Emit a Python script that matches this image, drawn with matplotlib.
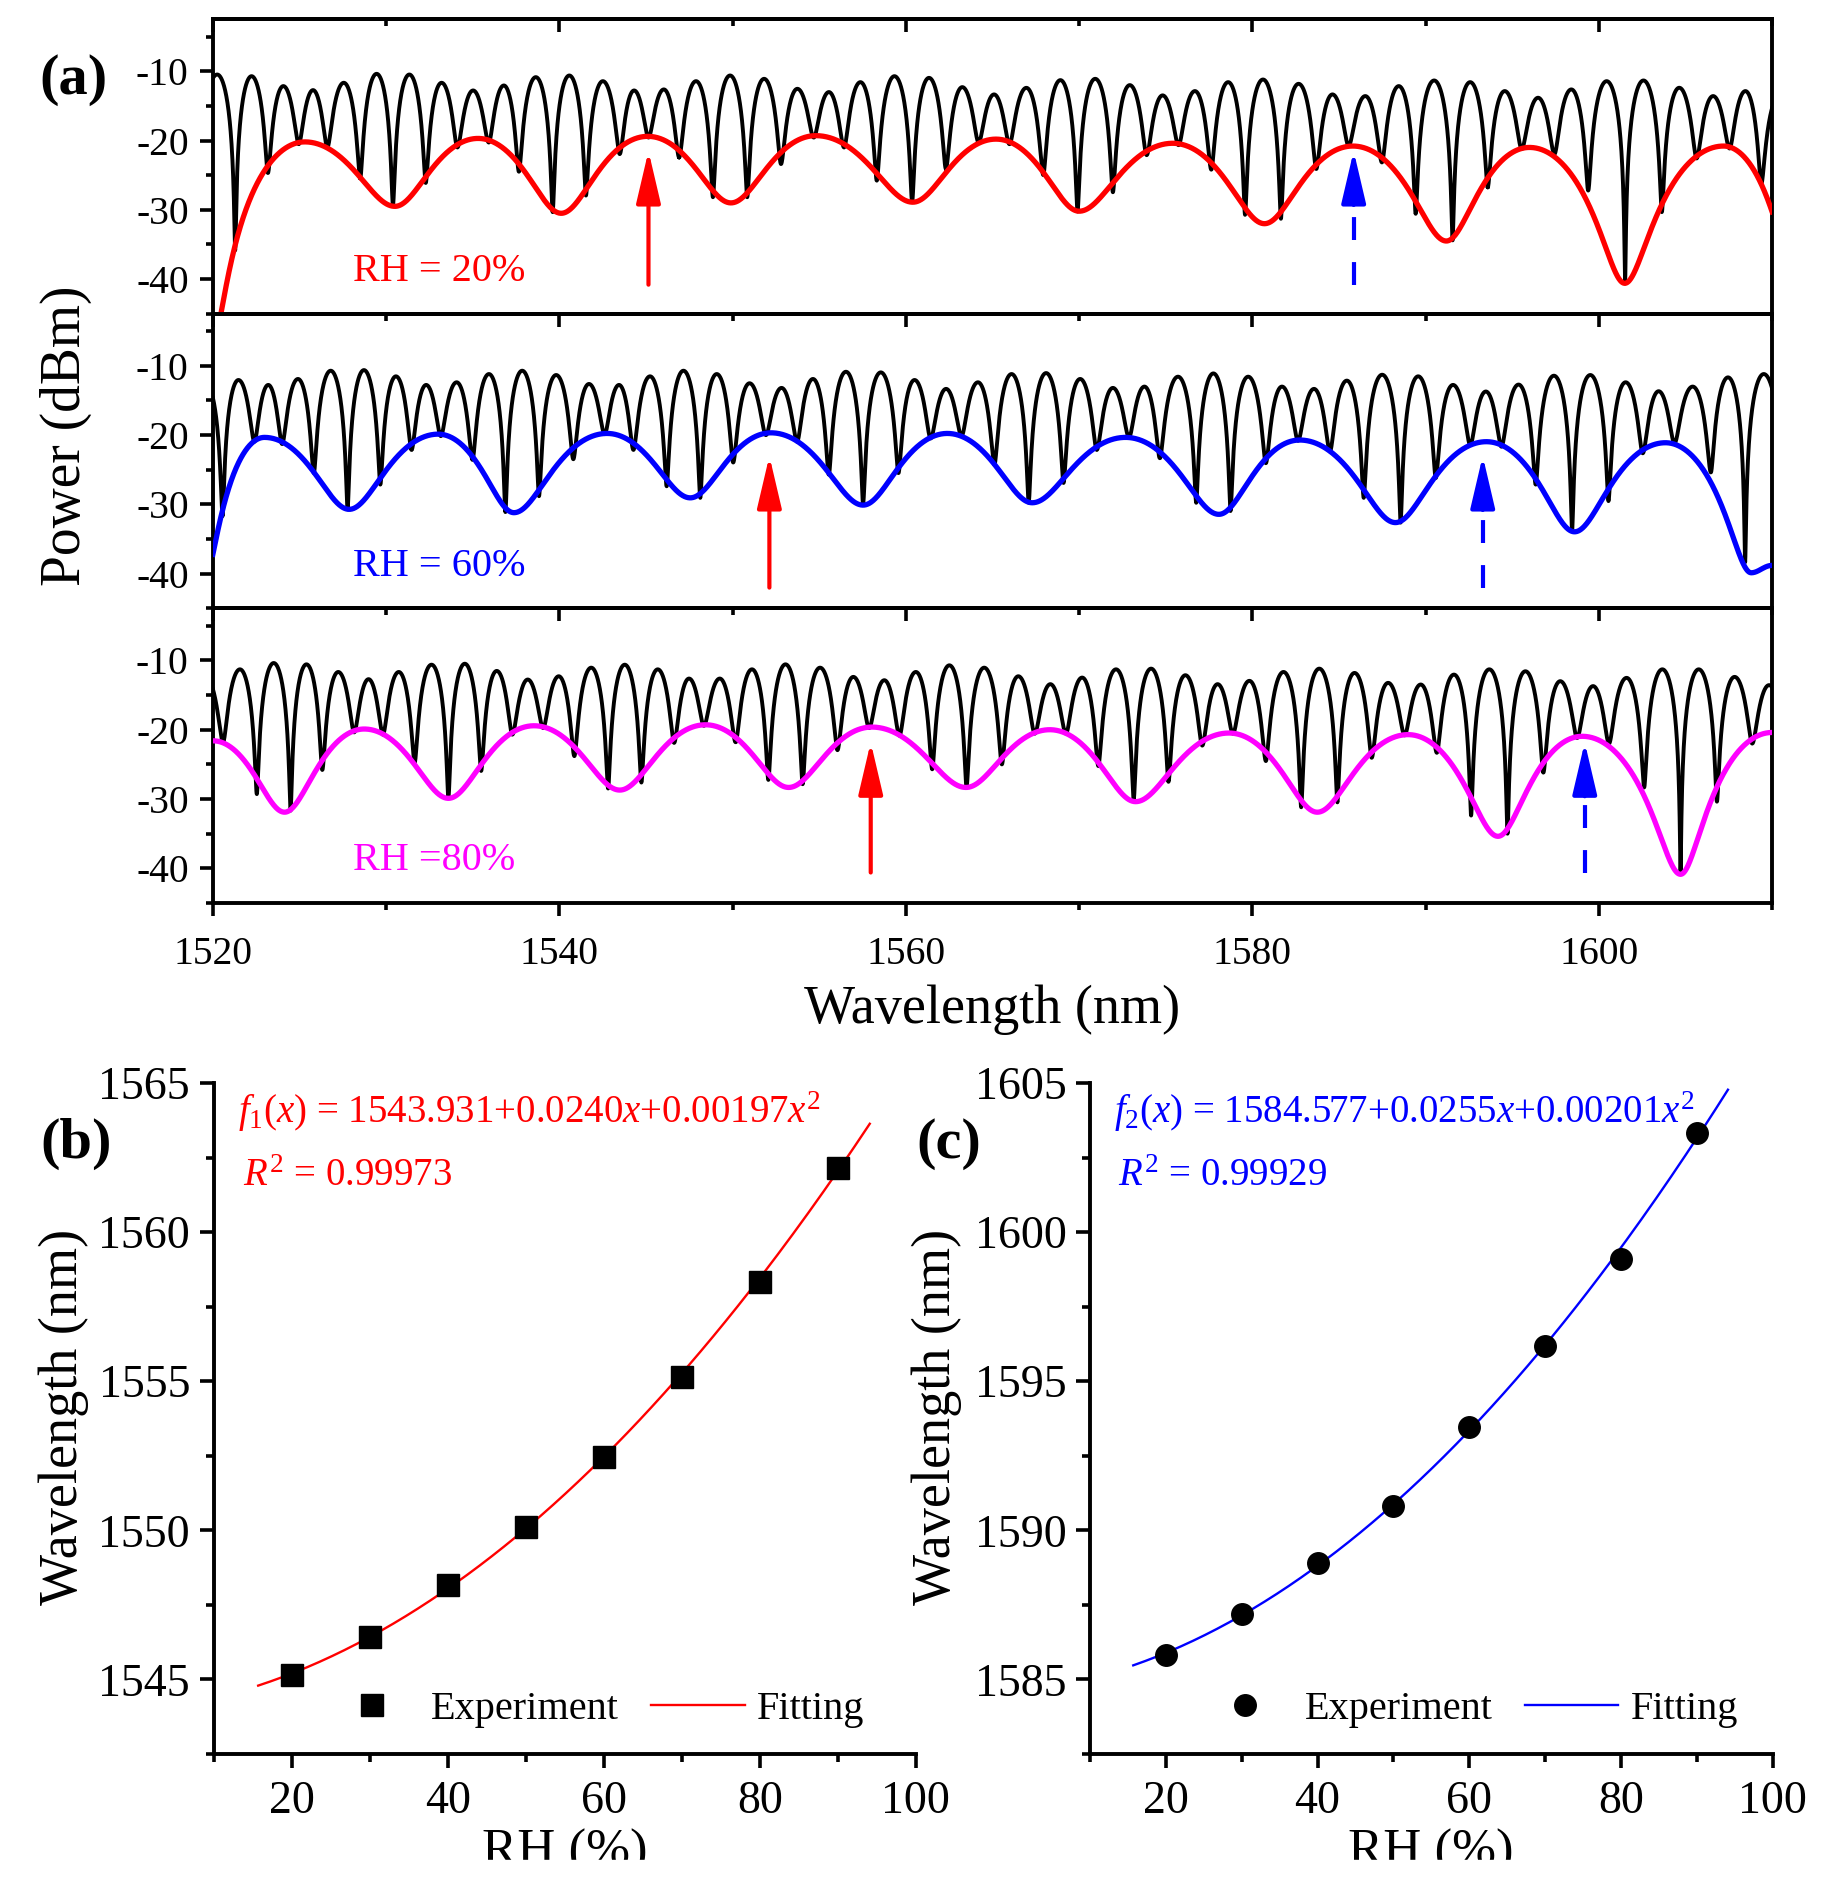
import numpy as np
import matplotlib
matplotlib.use('Agg')
import matplotlib.pyplot as plt
from matplotlib.ticker import MultipleLocator
from matplotlib.patches import Rectangle

plt.rcParams['font.family'] = ['Liberation Serif', 'DejaVu Serif']
plt.rcParams['mathtext.fontset'] = 'custom'
plt.rcParams['mathtext.rm'] = 'Liberation Serif'
plt.rcParams['mathtext.it'] = 'Liberation Serif:italic'
plt.rcParams['axes.unicode_minus'] = False

# ---------------- (a) spectra, values ----------------
# fringe dips (nm) and their depth (dBm); first and last dip lie just outside the window
dip_x_20 = [1519.2, 1521.28, 1523.17, 1524.95, 1526.60, 1528.50, 1530.39, 1532.28, 1534.11, 1535.92,
            1537.66, 1539.61, 1541.53, 1543.48, 1545.14, 1546.91, 1548.86, 1550.84, 1552.79, 1554.68,
            1556.43, 1558.32, 1560.36, 1562.31, 1564.20, 1565.98, 1567.93, 1569.91, 1571.95, 1573.90,
            1575.74, 1577.63, 1579.58, 1581.65, 1583.69, 1585.56, 1587.48, 1589.43, 1591.56, 1593.59,
            1595.55, 1597.44, 1599.39, 1601.52, 1603.64, 1605.65, 1607.55, 1609.38, 1611.5]
dip_db_20 = [-20, -35.84, -24.69, -20.53, -21.0, -25.45, -29.38, -26.12, -21.0, -20.29,
             -24.50, -30.33, -27.94, -21.96, -19.57, -22.44, -28.18, -28.18, -23.40, -19.57,
             -21.0, -25.79, -28.90, -24.11, -20.29, -20.53, -24.98, -30.24, -27.46, -22.11,
             -20.67, -24.21, -30.72, -31.29, -24.11, -20.77, -23.16, -30.57, -34.4, -26.75,
             -21.24, -21.96, -27.22, -40.62, -30.33, -22.58, -21.15, -26.27, -22]
peak_db_20 = [-10.48, -10.72, -12.15, -12.73, -11.67, -10.38, -10.48, -11.67, -12.78, -12.06,
              -10.86, -10.62, -11.44, -12.78, -12.63, -11.44, -10.62, -11.10, -12.54, -13.01,
              -11.58, -10.72, -10.96, -12.30, -13.35, -12.4, -11.29, -11.10, -12.01, -13.49,
              -12.87, -11.58, -11.2, -11.82, -13.35, -13.59, -12.15, -11.34, -11.58, -12.87,
              -13.83, -12.63, -11.44, -11.34, -12.39, -13.59, -12.87, -13.5]
env_x_20 = [1519.9, 1525.3, 1530.5, 1535.3, 1540.1, 1545.1, 1549.9, 1554.8, 1560.4, 1565.2,
            1570.0, 1575.4, 1580.7, 1585.8, 1591.2, 1596.0, 1601.5, 1607.2, 1611.4]
env_db_20 = [-50.0, -20.2, -29.5, -19.7, -30.5, -19.4, -29.0, -19.3, -28.9, -19.8,
             -30.2, -20.4, -32.0, -20.8, -34.5, -21.0, -40.6, -20.8, -39.5]

dip_x_60 = [1518.6, 1520.55, 1522.39, 1523.99, 1525.82, 1527.77, 1529.66, 1531.46, 1533.15, 1534.98,
            1536.88, 1538.82, 1540.80, 1542.61, 1544.27, 1546.19, 1548.13, 1550.03, 1551.92, 1553.72,
            1555.55, 1557.53, 1559.57, 1561.43, 1563.21, 1565.11, 1567.09, 1569.10, 1571.02, 1572.88,
            1574.66, 1576.76, 1578.74, 1580.78, 1582.64, 1584.48, 1586.43, 1588.56, 1590.59, 1592.58,
            1594.38, 1596.36, 1598.46, 1600.56, 1602.54, 1604.37, 1606.47, 1608.45, 1610.6]
dip_db_60 = [-20, -31.7, -20.95, -21.29, -25.48, -30.71, -27.14, -22.14, -20.14, -23.57,
             -31.1, -28.81, -23.48, -19.86, -22.14, -27.38, -29.05, -23.95, -20.0, -20.95,
             -25.71, -30.0, -25.48, -20.48, -20.14, -24.29, -29.76, -26.9, -22.14, -20.33,
             -23.33, -29.76, -30.95, -24.05, -20.81, -22.38, -29.05, -32.62, -26.19, -21.43,
             -21.67, -27.14, -33.81, -29.52, -22.62, -21.19, -25.38, -38.33, -22]
peak_db_60 = [-12.5, -12.05, -12.76, -11.9, -10.71, -10.62, -11.52, -12.76, -12.38, -11.19,
              -10.71, -11.33, -12.62, -12.76, -11.52, -10.71, -11.19, -12.52, -13.19, -11.9,
              -10.86, -10.95, -12.05, -13.33, -12.38, -11.19, -11.05, -11.9, -13.19, -13.0,
              -11.57, -11.1, -11.57, -13.0, -13.33, -12.14, -11.29, -11.52, -12.76, -13.71,
              -12.71, -11.43, -11.33, -12.38, -13.67, -13.0, -11.67, -11.19]
env_x_60 = [1519.4, 1522.97, 1527.86, 1533.0, 1537.37, 1542.75, 1547.55, 1552.21, 1557.53, 1562.39,
            1567.29, 1572.68, 1578.07, 1582.73, 1588.26, 1593.51, 1598.6, 1603.85, 1608.80, 1610.0]
env_db_60 = [-42.0, -20.33, -30.71, -19.86, -31.19, -19.76, -29.05, -19.67, -30.1, -19.76,
             -29.76, -20.33, -31.43, -20.71, -32.62, -20.95, -33.95, -21.1, -39.86, -38.8]

dip_x_80 = [1518.6, 1520.58, 1522.53, 1524.48, 1526.31, 1528.15, 1529.81, 1531.64, 1533.59, 1535.48,
            1537.28, 1539.06, 1540.86, 1542.81, 1544.73, 1546.62, 1548.34, 1550.17, 1552.06, 1554.04,
            1556.05, 1557.88, 1559.63, 1561.52, 1563.50, 1565.54, 1567.44, 1569.24, 1571.11, 1573.15,
            1575.16, 1577.11, 1578.88, 1580.78, 1582.82, 1584.91, 1586.89, 1588.79, 1590.65, 1592.63,
            1594.73, 1596.80, 1598.75, 1600.59, 1602.62, 1604.72, 1606.82, 1608.86, 1610.8]
dip_db_80 = [-20, -21.81, -29.29, -31.67, -25.81, -20.38, -20.71, -24.76, -29.9, -25.95,
             -20.71, -19.76, -23.81, -28.48, -27.62, -21.9, -19.43, -21.81, -27.24, -27.86,
             -22.95, -19.76, -20.86, -25.71, -28.33, -25.0, -20.57, -20.57, -25.24, -30.24,
             -27.52, -22.29, -20.57, -24.52, -31.19, -30.48, -24.05, -20.81, -23.33, -32.38,
             -35.0, -26.19, -21.19, -22.0, -28.33, -40.86, -30.38, -22.0, -22]
peak_db_80 = [-12.5, -11.29, -10.38, -10.57, -11.67, -12.71, -11.67, -10.62, -10.48, -11.52,
              -12.76, -12.29, -11.05, -10.62, -11.29, -12.62, -12.62, -11.29, -10.57, -11.05,
              -12.38, -12.86, -11.67, -10.71, -11.05, -12.29, -13.43, -12.48, -11.29, -11.19,
              -12.14, -13.43, -12.95, -11.67, -11.19, -11.81, -13.24, -13.48, -12.05, -11.29,
              -11.57, -13.0, -13.71, -12.52, -11.29, -11.29, -12.38, -13.57]
env_x_80 = [1520.0, 1524.13, 1528.73, 1533.59, 1538.53, 1543.48, 1548.43, 1553.23, 1558.03, 1563.47,
            1568.31, 1573.26, 1578.65, 1583.75, 1588.99, 1594.18, 1599.04, 1604.72, 1610.0]
env_db_80 = [-21.6, -31.9, -19.9, -29.9, -19.43, -28.71, -19.29, -28.33, -19.62, -28.33,
             -20.0, -30.38, -20.48, -31.9, -20.71, -35.38, -20.95, -40.86, -20.4]

env_colors = ['red', 'blue', 'magenta']
rh_labels = ['RH = 20%', 'RH = 60%', 'RH =80%']

# tracked peaks (arrows): red = dip 1, blue dashed = dip 2
arrow_red_x = [1545.14, 1552.12, 1557.97]
arrow_blue_x = [1585.85, 1593.30, 1599.19]
arrow_tail = [-40.8, -42.0, -40.6]
arrow_tip = [-21.5, -23.0, -21.8]
head_db = 6.6   # length of the arrow head along y

# ---------------- (b), (c) ----------------
rh = [20, 30, 40, 50, 60, 70, 80, 90]
dip1_nm = [1545.15, 1546.42, 1548.18, 1550.11, 1552.45, 1555.15, 1558.34, 1562.15]
dip2_nm = [1585.83, 1587.21, 1588.92, 1590.83, 1593.46, 1596.17, 1599.11, 1603.31]
fit1 = [1543.931, 0.0240, 0.00197]
fit2 = [1584.577, 0.0255, 0.00201]
fit_range = [15.7, 94.1]


def comb(dx, dd, pk, n=160):
    # two-beam fringe between neighbouring dips, in dB
    xs, ys = [], []
    for i in range(len(pk)):
        x = np.linspace(dx[i], dx[i + 1], n)
        t = (x - dx[i]) / (dx[i + 1] - dx[i])
        d = np.where(t < 0.5, dd[i], dd[i + 1])
        r = 10 ** ((d - pk[i]) / 10)
        v = (1 - r) / (1 + r)
        ys.append(pk[i] + 10 * np.log10((1 - v * np.cos(2 * np.pi * t)) / (1 + v)))
        xs.append(x)
    return np.concatenate(xs), np.concatenate(ys)


def envelope(ex, ey, n=200):
    xs, ys = [], []
    for i in range(len(ex) - 1):
        x = np.linspace(ex[i], ex[i + 1], n)
        if ey[i] > ey[i + 1]:
            hi, lo = ey[i], ey[i + 1]
            t = (x - ex[i]) / (ex[i + 1] - ex[i])
        else:
            hi, lo = ey[i + 1], ey[i]
            t = (ex[i + 1] - x) / (ex[i + 1] - ex[i])
        a = 10 ** ((lo - hi) / 20)
        w = (1 - a) / (1 + a)
        ys.append(hi + 20 * np.log10((1 + w * np.cos(np.pi * t)) / (1 + w)))
        xs.append(x)
    return np.concatenate(xs), np.concatenate(ys)


def arrow(ax, x, tail, tip, color, dashed):
    base = tip - head_db
    hs = '-|>,head_length=32,head_width=7.5'
    if dashed:
        ax.plot([x, x], [tail, base], color=color, lw=3, ls=(0, (5.5, 5.3)), zorder=4)
        start = base - 1.2
    else:
        start = tail
    ax.annotate('', xy=(x, tip), xytext=(x, start),
                arrowprops=dict(arrowstyle=hs, mutation_scale=1, color=color, lw=3,
                                shrinkA=0, shrinkB=0), zorder=4)


W, H = 1837, 1901
fig = plt.figure(figsize=(W / 100, H / 100), dpi=100)

spectra = [(dip_x_20, dip_db_20, peak_db_20, env_x_20, env_db_20),
           (dip_x_60, dip_db_60, peak_db_60, env_x_60, env_db_60),
           (dip_x_80, dip_db_80, peak_db_80, env_x_80, env_db_80)]
tops = [19.2, 313.8, 608.4]
ph = 294.6

for k, (dx, dd, pk, ex, ey) in enumerate(spectra):
    ax = fig.add_axes([213 / W, 1 - (tops[k] + ph) / H, 1559 / W, ph / H])
    ax.patch.set_visible(False)
    cx, cy = comb(dx, dd, pk)
    ax.plot(cx, cy, color='black', lw=2.8, zorder=2)
    exx, eyy = envelope(ex, ey)
    ax.plot(exx, eyy, color=env_colors[k], lw=3.8, zorder=3)

    arrow(ax, arrow_red_x[k], arrow_tail[k], arrow_tip[k], 'red', False)
    arrow(ax, arrow_blue_x[k], arrow_tail[k], arrow_tip[k], 'blue', True)
    ax.text(1528.06, -40.3, rh_labels[k], color=env_colors[k], fontsize=29, ha='left', va='baseline')

    ax.set_xlim(1520, 1610)
    ax.set_ylim(-45, -2.5)
    ax.set_yticks([-40, -30, -20, -10])
    ax.yaxis.set_minor_locator(MultipleLocator(5))
    ax.xaxis.set_major_locator(MultipleLocator(20))
    ax.xaxis.set_minor_locator(MultipleLocator(10))
    for s in ax.spines.values():
        s.set_linewidth(2.8)
    ax.tick_params(which='both', direction='out', width=2.6, labelsize=28.5)
    ax.tick_params(which='major', length=9.5)
    ax.tick_params(which='minor', length=5)
    ax.tick_params(axis='y', pad=8)
    ax.tick_params(axis='x', pad=14)
    if k < 2:
        ax.tick_params(axis='x', labelbottom=False)
    if k == 0:
        top = ax.secondary_xaxis('top')
        top.xaxis.set_major_locator(MultipleLocator(20))
        top.xaxis.set_minor_locator(MultipleLocator(10))
        top.tick_params(which='both', direction='in', width=2.6, labeltop=False)
        top.tick_params(which='major', length=9.5)
        top.tick_params(which='minor', length=5)
        top.spines['top'].set_linewidth(2.8)

fig.text(992.5 / W, 1 - 1023 / H, 'Wavelength (nm)', fontsize=39, ha='center', va='baseline')
fig.text(65.5 / W, 1 - 436 / H, 'Power (dBm)', fontsize=40, rotation=90, ha='center', va='center')
fig.text(74 / W, 1 - 80 / H, '(a)', fontsize=42, fontweight='bold', ha='center', va='center')

# ---------------- (b) and (c) ----------------
fits = [(dip1_nm, fit1, 'red', 's', (1542.5, 1565), [1545, 1550, 1555, 1560, 1565], 1, 213.7, 702.1, 76, 64, 565),
        (dip2_nm, fit2, 'blue', 'o', (1582.5, 1605), [1585, 1590, 1595, 1600, 1605], 2, 1090, 682.7, 949, 937, 1431)]

for wl, c, col, mk, ylim, yt, idx, left, width, lab_x, ylab_x, xlab_x in fits:
    ax = fig.add_axes([left / W, 1 - 1754 / H, width / W, 671 / H])
    ax.patch.set_visible(False)
    ax.plot(rh, wl, ls='none', marker=mk, ms=15.5, color='black', label='Experiment', zorder=3)
    xf = np.linspace(fit_range[0], fit_range[1], 200)
    ax.plot(xf, c[0] + c[1] * xf + c[2] * xf ** 2, color=col, lw=1.7, label='Fitting', zorder=2)
    ax.set_xlim(10, 100)
    ax.set_ylim(*ylim)
    ax.set_yticks(yt)
    ax.yaxis.set_minor_locator(MultipleLocator(2.5))
    ax.xaxis.set_major_locator(MultipleLocator(20))
    ax.xaxis.set_minor_locator(MultipleLocator(10))
    ax.spines['top'].set_visible(False)
    ax.spines['right'].set_visible(False)
    for s in ('left', 'bottom'):
        ax.spines[s].set_linewidth(2.8)
    ax.tick_params(which='both', direction='out', width=2.6, labelsize=33)
    ax.tick_params(which='major', length=10)
    ax.tick_params(which='minor', length=6)
    ax.tick_params(axis='y', pad=7)
    ax.tick_params(axis='x', pad=9)

    yr = ylim[1]
    ax.text(13.1, yr - 1.34, r'$f_{%d}(x)$ = %.3f+%.4f$x$+%.5f$x^2$' % (idx, c[0], c[1], c[2]),
            color=col, fontsize=28, ha='left', va='baseline')
    r2 = '0.99973' if idx == 1 else '0.99929'
    ax.text(13.7, yr - 3.46, r'$R^2$ = ' + r2, color=col, fontsize=28, ha='left', va='baseline')

    ax.legend(ncol=2, frameon=False, loc='center left', bbox_to_anchor=(0.159, 0.066),
              fontsize=29, handlelength=2.33, handletextpad=0.3, columnspacing=0.8,
              borderpad=0, borderaxespad=0)

    fig.text(lab_x / W, 1 - 1144 / H, '(b)' if idx == 1 else '(c)', fontsize=42,
             fontweight='bold', ha='center', va='center')
    fig.text(ylab_x / W, 1 - 1417 / H, 'Wavelength (nm)', fontsize=39, rotation=90,
             ha='center', va='center')
    fig.text(xlab_x / W, 1 - 1866 / H, 'RH (%)', fontsize=38, ha='center', va='baseline')

# the original picture is cut just below the top of the RH (%) labels
fig.add_artist(Rectangle((0, 0), 1, 41 / H, transform=fig.transFigure, color='white', zorder=10))

fig.savefig('out.png', dpi=100)
